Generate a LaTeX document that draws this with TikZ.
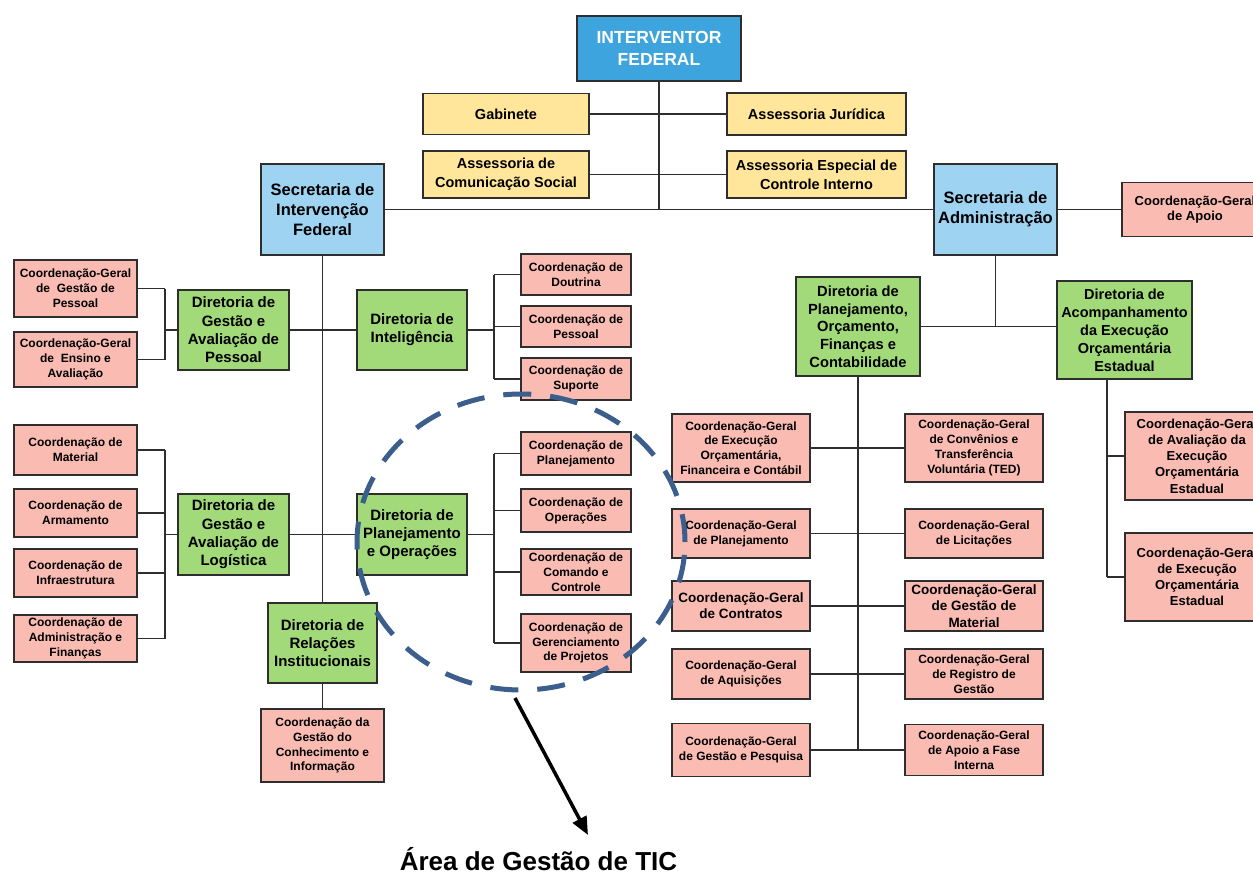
\documentclass[tikz,border=0pt]{standalone}
\usepackage{fontspec}
\setmainfont{Liberation Sans}
\usetikzlibrary{arrows.meta,shapes.geometric}

\definecolor{topblue}{HTML}{3DA4DD}
\definecolor{secblue}{HTML}{9FD3F2}
\definecolor{advyellow}{HTML}{FFE69A}
\definecolor{dirgreen}{HTML}{A2D979}
\definecolor{coordred}{HTML}{F9BBB2}
\definecolor{ticblue}{HTML}{3B5E8D}
\definecolor{edge}{HTML}{2E2E2E}

\tikzset{
  unit/.style={draw=edge, line width=1.4pt, align=center, inner sep=0pt},
  wh/.style 2 args={minimum width=#1, minimum height=#2},
  fs/.style 2 args={font=\fontsize{#1}{#2}\selectfont\bfseries},
  chief/.style={unit, fill=topblue, text=white, fs={17.5}{22}},
  secretariat/.style={unit, fill=secblue, fs={16.5}{20}},
  advisory/.style={unit, fill=advyellow, fs={14.5}{19}},
  directorate/.style={unit, fill=dirgreen, fs={15}{18.3}},
  coord/.style={unit, fill=coordred, fs={12}{14.8}},
  coordbig/.style={unit, fill=coordred, fs={13.5}{16.2}},
  conn/.style={draw=edge, line width=1.5pt},
  ticarea/.style={draw=ticblue, line width=5pt, dash pattern=on 28pt off 19pt, ellipse, fill=none},
  pointer/.style={draw=black, line width=3.5pt, -{Triangle[length=18pt,width=15pt]}}
}

\begin{document}
\begin{tikzpicture}[x=1pt, y=1pt]
\useasboundingbox (0,0) rectangle (1253,-875);
\clip (0,0) rectangle (1253,-875);

% ---- top level ----
\node[chief, wh={164}{65}] (interv) at (659,-48.5) {INTERVENTOR\\FEDERAL};
\node[advisory, wh={166}{41}] (gab) at (506,-114) {Gabinete};
\node[advisory, wh={179}{42}] (aj) at (816.5,-114) {Assessoria Jurídica};
\node[advisory, wh={166}{47}] (acs) at (506,-174.5) {Assessoria de\\Comunicação Social};
\node[advisory, wh={179}{47}] (aeci) at (816.5,-174.5) {Assessoria Especial de\\Controle Interno};

\node[secretariat, wh={123}{91}] (secint) at (322.5,-209.5) {Secretaria de\\Intervenção\\Federal};
\node[secretariat, wh={123}{91}] (secadm) at (995.5,-209.5) {Secretaria de\\Administração};
\node[coord, fs={13}{15.5}, wh={146}{54}] (cgapoio) at (1195,-209.5) {Coordenação-Geral\\de Apoio};

% ---- Secretaria de Intervenção Federal ----
\node[directorate, wh={111}{80}] (dgap) at (233.5,-330) {Diretoria de\\Gestão e\\Avaliação de\\Pessoal};
\node[directorate, wh={110}{80}] (dint) at (412,-330) {Diretoria de\\Inteligência};
\node[coord, wh={110}{41}] (cdout) at (576,-274.5) {Coordenação de\\Doutrina};
\node[coord, wh={110}{41}] (cpes) at (576,-326.5) {Coordenação de\\Pessoal};
\node[coord, wh={110}{42}] (csup) at (576,-379) {Coordenação de\\Suporte};
\node[coord, wh={123}{57}] (cggp) at (75.5,-288.5) {Coordenação-Geral\\de\ \ Gestão de\\Pessoal};
\node[coord, wh={123}{55}] (cgea) at (75.5,-359.5) {Coordenação-Geral\\de\ \ Ensino e\\Avaliação};

\node[directorate, wh={111}{81}] (dgal) at (233.5,-534.5) {Diretoria de\\Gestão e\\Avaliação de\\Logística};
\node[directorate, wh={110}{81}] (dpo) at (412,-534.5) {Diretoria de\\Planejamento\\e Operações};
\node[coord, wh={123}{50}] (cmat) at (75.5,-450) {Coordenação de\\Material};
\node[coord, wh={123}{48}] (carm) at (75.5,-513) {Coordenação de\\Armamento};
\node[coord, wh={123}{48}] (cinf) at (75.5,-573) {Coordenação de\\Infraestrutura};
\node[coord, wh={123}{47}] (cadm) at (75.5,-638.5) {Coordenação de\\Administração e\\Finanças};
\node[coord, wh={110}{43}] (cplan) at (576,-453.5) {Coordenação de\\Planejamento};
\node[coord, wh={110}{43}] (cop) at (576,-510.5) {Coordenação de\\Operações};
\node[coord, wh={110}{46}] (ccc) at (576,-572) {Coordenação de\\Comando e\\Controle};
\node[coord, wh={110}{58}] (cgp) at (576,-643) {Coordenação de\\Gerenciamento\\de Projetos};

\node[directorate, wh={109}{80}] (drel) at (322.5,-643) {Diretoria de\\Relações\\Institucionais};
\node[coord, wh={123}{73}] (cgci) at (322.5,-745.5) {Coordenação da\\Gestão do\\Conhecimento e\\Informação};

% ---- Secretaria de Administração ----
\node[directorate, fs={14.7}{17.7}, wh={124}{99}] (dpofc) at (858,-326.5) {Diretoria de\\Planejamento,\\Orçamento,\\Finanças e\\Contabilidade};
\node[directorate, fs={14.5}{18}, wh={135}{98}] (dacomp) at (1124.5,-330) {Diretoria de\\Acompanhamento\\da Execução\\Orçamentária\\Estadual};

\node[coord, wh={138}{68}] (l1) at (741,-448) {Coordenação-Geral\\de Execução\\Orçamentária,\\Financeira e Contábil};
\node[coord, wh={138}{49}] (l2) at (741,-533.5) {Coordenação-Geral\\de Planejamento};
\node[coordbig, wh={138}{50}] (l3) at (741,-606) {Coordenação-Geral\\de Contratos};
\node[coord, wh={138}{50}] (l4) at (741,-674) {Coordenação-Geral\\de Aquisições};
\node[coord, wh={138}{53}] (l5) at (741,-750) {Coordenação-Geral\\de Gestão e Pesquisa};

\node[coord, wh={138}{68}] (r1) at (974,-448) {Coordenação-Geral\\de Convênios e\\Transferência\\Voluntária (TED)};
\node[coord, wh={138}{49}] (r2) at (974,-533.5) {Coordenação-Geral\\de Licitações};
\node[coordbig, wh={138}{50}] (r3) at (974,-606) {Coordenação-Geral\\de Gestão de\\Material};
\node[coord, wh={138}{50}] (r4) at (974,-674) {Coordenação-Geral\\de Registro de\\Gestão};
\node[coord, wh={138}{51}] (r5) at (974,-750) {Coordenação-Geral\\de Apoio a Fase\\Interna};

\node[coord, fs={13}{16.2}, wh={144}{88}] (cgaee) at (1197,-456) {Coordenação-Geral\\de Avaliação da\\Execução\\Orçamentária\\Estadual};
\node[coord, fs={13}{16.2}, wh={144}{88}] (cgeoe) at (1197,-577) {Coordenação-Geral\\de Execução\\Orçamentária\\Estadual};

% ---- bus positions ----
\coordinate (busleft) at (165,0);
\coordinate (busint) at (494,0);
\coordinate (busacomp) at (1107,0);

% ---- connectors: top ----
\draw[conn] (interv.south) -- (interv.south |- secint.east);
\draw[conn] (secint.east) -- (secadm.west);
\draw[conn] (gab.east) -- (aj.west);
\draw[conn] (acs.east) -- (aeci.west);
\draw[conn] (secadm.east) -- (cgapoio.west);

% ---- connectors: Secretaria de Intervenção Federal ----
\draw[conn] (secint.south) -- (drel.north);
\draw[conn] (dgap.east) -- (dint.west);
\draw[conn] (dgal.east) -- (dpo.west);
\draw[conn] (drel.south) -- (cgci.north);

\draw[conn] (dint.east) -- (dint.east -| busint);
\draw[conn] (busint |- cdout.west) -- (busint |- csup.west);
\foreach \n in {cdout,cpes,csup} \draw[conn] (busint |- \n.west) -- (\n.west);

\draw[conn] (dpo.east) -- (dpo.east -| busint);
\draw[conn] (busint |- cplan.west) -- (busint |- cgp.west);
\foreach \n in {cplan,cop,ccc,cgp} \draw[conn] (busint |- \n.west) -- (\n.west);

\draw[conn] (dgap.west) -- (dgap.west -| busleft);
\draw[conn] (busleft |- cggp.east) -- (busleft |- cgea.east);
\foreach \n in {cggp,cgea} \draw[conn] (\n.east) -- (busleft |- \n.east);

\draw[conn] (dgal.west) -- (dgal.west -| busleft);
\draw[conn] (busleft |- cmat.east) -- (busleft |- cadm.east);
\foreach \n in {cmat,carm,cinf,cadm} \draw[conn] (\n.east) -- (busleft |- \n.east);

% ---- connectors: Secretaria de Administração ----
\draw[conn] (secadm.south) -- (secadm.south |- dpofc.east);
\draw[conn] (dpofc.east) -- (dpofc.east -| dacomp.west);
\draw[conn] (dpofc.south) -- (dpofc.south |- l5.east);
\foreach \i in {1,...,5} \draw[conn] (l\i.east) -- (r\i.west);

\draw[conn] (busacomp |- dacomp.south) -- (busacomp |- cgeoe.west);
\foreach \n in {cgaee,cgeoe} \draw[conn] (busacomp |- \n.west) -- (\n.west);

% ---- highlighted ICT area ----
\node[ticarea, minimum width=328pt, minimum height=296pt, inner sep=0pt] (tic) at (521,-542) {};
\coordinate (tictail) at (515,-698);
\coordinate (tichead) at (588,-835);
\draw[pointer] (tictail) -- (tichead);
\node[fs={26}{30}, anchor=base, inner sep=0pt] (ticlabel) at (538.5,-870) {Área de Gestão de TIC};

\end{tikzpicture}
\end{document}
